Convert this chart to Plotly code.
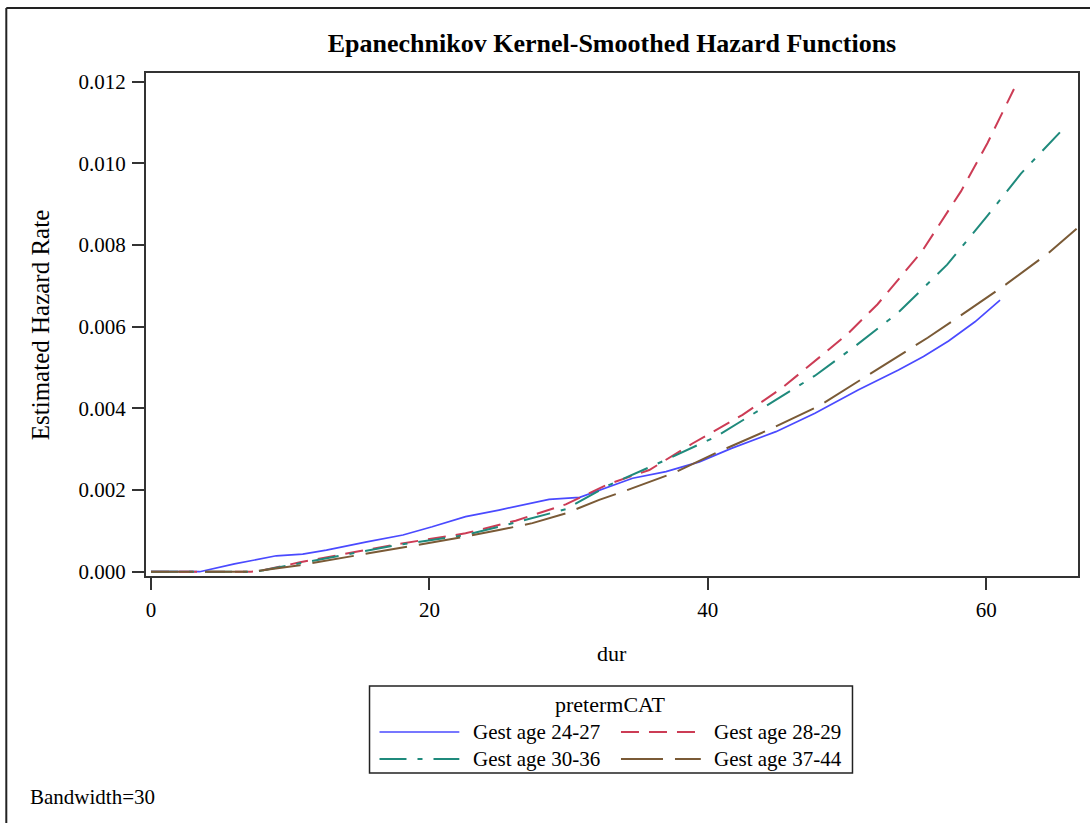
import plotly.graph_objects as go

# Kernel-smoothed hazard estimates by gestational-age group
dur_24_27 = [0, 3.5, 6.0, 9.0, 10.9, 12.6, 15.5, 18.1, 20.2, 22.6, 25.0, 28.6, 30.8,
             32.2, 34.6, 37.0, 39.4, 41.7, 44.9, 47.7, 50.8, 53.7, 55.5, 57.3, 59.2, 61.0]
haz_24_27 = [0, 0, 0.00019, 0.00039, 0.00043, 0.00053, 0.00073, 0.00090, 0.00110,
             0.00135, 0.00151, 0.00177, 0.00182, 0.00200, 0.00229, 0.00245, 0.00269,
             0.00302, 0.00343, 0.00388, 0.00445, 0.00494, 0.00527, 0.00565, 0.00612,
             0.00665]

dur_28_29 = [0, 7.2, 7.8, 10.7, 13.5, 17.8, 22.6, 25.0, 26.2, 29.8, 32.9, 35.8, 38.9,
             42.5, 45.3, 48.2, 50.1, 52.2, 55.4, 58.2, 60.1, 62.0]
haz_28_29 = [0, 0, 0.00002, 0.00023, 0.00041, 0.00068, 0.00094, 0.00115, 0.00125,
             0.00165, 0.00215, 0.00249, 0.00314, 0.00384, 0.00449, 0.00530, 0.00584,
             0.00655, 0.00785, 0.00932, 0.01050, 0.01182]

dur_30_36 = [0, 7.2, 7.8, 10.7, 13.5, 17.8, 22.6, 25.0, 29.8, 32.9, 37.0, 40.6, 44.1,
             47.7, 50.5, 53.7, 57.2, 60.1, 62.5, 65.3]
haz_30_36 = [0, 0, 0.00002, 0.00021, 0.00039, 0.00066, 0.00090, 0.00110, 0.00153,
             0.00212, 0.00274, 0.00331, 0.00404, 0.00480, 0.00550, 0.00635, 0.00752,
             0.00872, 0.00975, 0.01076]

dur_37_44 = [0, 7.2, 10.7, 17.8, 22.6, 25.0, 27.4, 29.8, 32.2, 33.9, 37.5, 40.8, 44.6,
             48.0, 51.3, 53.7, 55.8, 58.5, 61.4, 64.5, 66.5]
haz_37_44 = [0, 0, 0.00016, 0.00057, 0.00086, 0.00102, 0.00119, 0.00143, 0.00176,
             0.00196, 0.00241, 0.00294, 0.00351, 0.00406, 0.00476, 0.00527, 0.00573,
             0.00635, 0.00703, 0.00781, 0.00840]

group_labels = ["Gest age 24-27", "Gest age 28-29", "Gest age 30-36", "Gest age 37-44"]
x_ticks = [0, 20, 40, 60]
y_ticks = [0.000, 0.002, 0.004, 0.006, 0.008, 0.010, 0.012]

FONT = "Liberation Serif"
W, H = 1090, 823
L, R, T, B = 146, 1080, 73, 576  # plot-area edges in pixels

series = [
    (dur_24_27, haz_24_27, "#4a4aff", "solid", 1.7),
    (dur_28_29, haz_28_29, "#cc3c55", "18px,10px", 2),
    (dur_30_36, haz_30_36, "#1f8a7c", "27px,11px,5px,11px", 2),
    (dur_37_44, haz_37_44, "#7a5a36", "42px,12px", 2),
]


def px(x):
    return (x - L) / (R - L)


def py(y):
    return (B - y) / (B - T)


fig = go.Figure()
for (xs, ys, color, dash, width), name in zip(series, group_labels):
    fig.add_trace(go.Scatter(x=xs, y=ys, mode="lines", name=name,
                             line=dict(color=color, dash=dash, width=width),
                             showlegend=False))

shapes = []
annotations = []

# outer frame of the graph
shapes.append(dict(type="line", xref="paper", yref="paper", x0=px(6), x1=px(1095),
                   y0=py(8), y1=py(8), line=dict(color="#222", width=2)))
shapes.append(dict(type="line", xref="paper", yref="paper", x0=px(6), x1=px(6),
                   y0=py(8), y1=py(830), line=dict(color="#222", width=2)))

# legend box
shapes.append(dict(type="rect", xref="paper", yref="paper", x0=px(370), x1=px(854),
                   y0=py(686), y1=py(773), line=dict(color="#222", width=1.5),
                   fillcolor="white"))
annotations.append(dict(text="pretermCAT", xref="paper", yref="paper", x=px(611),
                        y=py(704), xanchor="center", yanchor="middle", showarrow=False,
                        font=dict(family=FONT, size=22, color="black")))
legend_pos = [(380, 472, 732), (622, 713, 732), (380, 472, 759), (622, 713, 759)]
for (xs, ys, color, dash, width), name, (lx, tx, ly) in zip(series, group_labels, legend_pos):
    shapes.append(dict(type="line", xref="paper", yref="paper", x0=px(lx), x1=px(lx + 80),
                       y0=py(ly), y1=py(ly), line=dict(color=color, dash=dash, width=width)))
    annotations.append(dict(text=name, xref="paper", yref="paper", x=px(tx), y=py(ly),
                            xanchor="left", yanchor="middle", showarrow=False,
                            font=dict(family=FONT, size=21, color="black")))

# axis titles and footnote
annotations.append(dict(text="Estimated Hazard Rate", xref="paper", yref="paper",
                        x=px(40), y=py(325), textangle=-90, xanchor="center",
                        yanchor="middle", showarrow=False,
                        font=dict(family=FONT, size=25, color="black")))
annotations.append(dict(text="dur", xref="paper", yref="paper", x=px(613), y=py(653),
                        xanchor="center", yanchor="middle", showarrow=False,
                        font=dict(family=FONT, size=22, color="black")))
annotations.append(dict(text="Bandwidth=30", xref="paper", yref="paper", x=px(28),
                        y=py(797), xanchor="left", yanchor="middle", showarrow=False,
                        font=dict(family=FONT, size=21, color="black")))

axis_common = dict(showgrid=False, zeroline=False, showline=True, mirror=True,
                   linecolor="#333", linewidth=2, ticks="outside", ticklen=12,
                   tickwidth=1.5, tickcolor="#333",
                   tickfont=dict(family=FONT, size=21, color="black"))

fig.update_layout(
    width=W, height=H,
    margin=dict(l=L, r=W - R, t=T, b=H - B),
    paper_bgcolor="white", plot_bgcolor="white",
    title=dict(text="Epanechnikov Kernel-Smoothed Hazard Functions", x=0.5,
               xref="paper", xanchor="center", y=1 - 43 / H, yanchor="middle",
               font=dict(family=FONT, size=26, color="black", weight="bold")),
    xaxis=dict(range=[-0.36, 66.6], tickvals=x_ticks, ticklabelstandoff=2, **axis_common),
    yaxis=dict(range=[-0.000105, 0.012213], tickvals=y_ticks, tickformat=".3f",
               ticklabelstandoff=2, **axis_common),
    shapes=shapes,
    annotations=annotations,
)

fig.write_html("out.html")
